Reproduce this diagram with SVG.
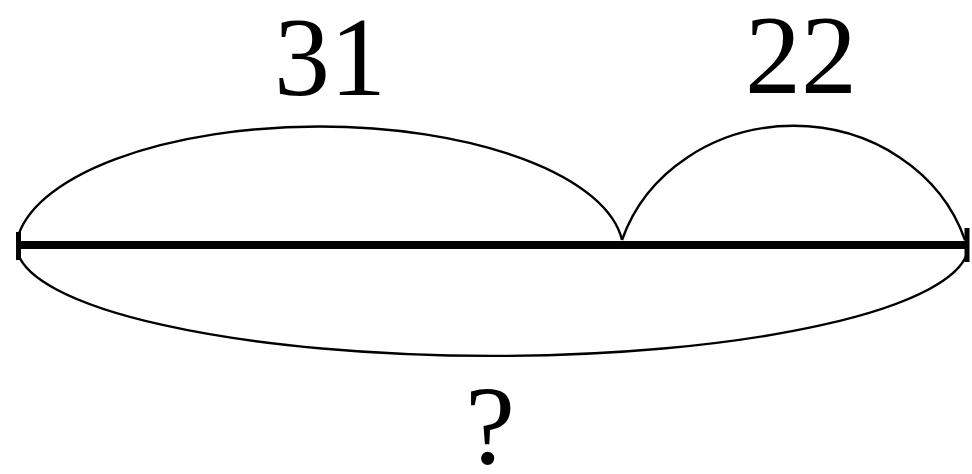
<svg xmlns="http://www.w3.org/2000/svg" width="972" height="474" viewBox="0 0 972 474">
<style>
.arc{fill:none;stroke:#000;stroke-width:2.4}
.bar{fill:none;stroke:#000;stroke-width:8}
.tick{fill:none;stroke:#000;stroke-width:5}
.lbl{font-family:"Liberation Serif","Times New Roman",serif;font-size:112px;fill:#000;text-anchor:middle}
</style>
<rect width="972" height="474" fill="#fff"/>
<g id="connectors">
<path class="arc" d="M17,240 A304,126 0 0 1 622,240"/>
<path class="arc" d="M622,240 A180,164 0 0 1 965,240"/>
<path class="arc" d="M17,250 A476,111 0 0 0 968,250"/>
</g>
<g id="segment">
<line class="bar" x1="17" y1="245" x2="967" y2="245"/>
<line class="tick" x1="18.5" y1="232" x2="18.5" y2="260"/>
<line class="tick" x1="967" y1="228" x2="967" y2="262"/>
</g>
<g id="label-31"><text class="lbl" x="330" y="95">31</text></g>
<g id="label-22"><text class="lbl" x="801" y="93">22</text></g>
<g id="label-q"><text class="lbl" x="490" y="463">?</text></g>
</svg>
